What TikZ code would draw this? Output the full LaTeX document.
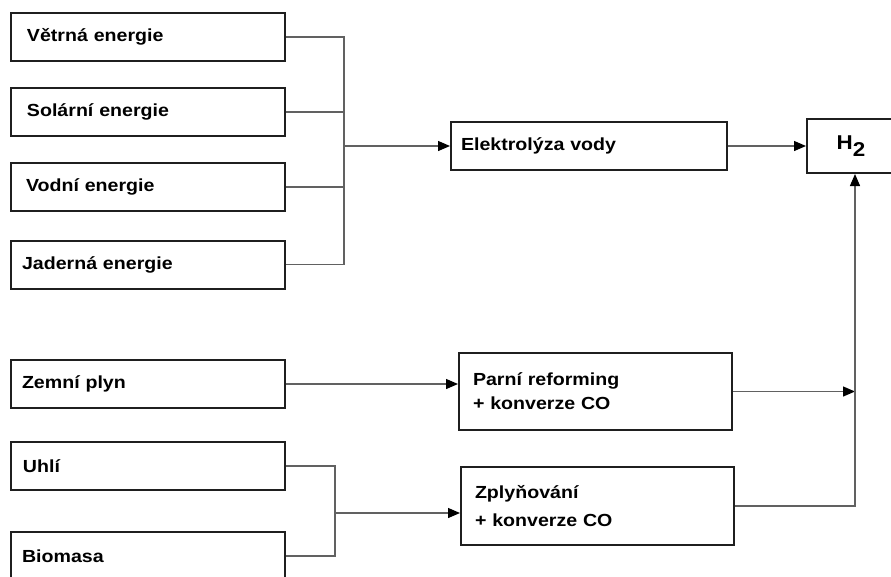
\documentclass[tikz,border=0pt]{standalone}
\usepackage{fontspec}
\setmainfont{Liberation Sans}[FakeStretch=1.12]
\usetikzlibrary{arrows.meta}
\begin{document}
\begin{tikzpicture}[x=1pt,y=-1pt,
  box/.style={draw=black!88, line width=2pt, fill=white, align=left, inner ysep=0pt,
    font=\fontsize{17.5}{24}\selectfont\bfseries},
  conn/.style={draw=black!62, line width=1.3pt},
  arr/.style={conn, -{Triangle[length=12pt,width=10pt,color=black]}}]
\useasboundingbox (0,0) rectangle (891,576);
\fill[white] (0,0) rectangle (891,576);
% left source boxes
\node[box, minimum height=48pt, inner xsep=16pt, text width=242pt] (vetrna) at (148,37) {Větrná energie};
\node[box, minimum height=48pt, inner xsep=16pt, text width=242pt] (solarni) at (148,112) {Solární energie};
\node[box, minimum height=48pt, inner xsep=15pt, text width=244pt] (vodni) at (148,187) {Vodní energie};
\node[box, minimum height=48pt, inner xsep=11pt, text width=252pt] (jaderna) at (148,264.5) {Jaderná energie};
\node[box, minimum height=48pt, inner xsep=11pt, text width=252pt] (zemni) at (148,384) {Zemní plyn};
\node[box, minimum height=48pt, inner xsep=12pt, text width=250pt] (uhli) at (148,466) {Uhlí};
\node[box, minimum height=48pt, inner xsep=11pt, text width=252pt] (biomasa) at (148,556) {Biomasa};
% processes
\node[box, minimum height=48pt, inner xsep=10pt, text width=256pt] (elektro) at (589,146) {Elektrolýza vody};
\node[box, minimum height=77pt, inner xsep=14pt, text width=245pt] (parni) at (595.5,391.5) {Parní reforming\\+ konverze CO};
\node[box, minimum height=78pt, inner xsep=14pt, text width=245pt] (zplyn) at (597.5,506) {Zplyňování\\[4pt]+ konverze CO};
% product
\node[box, minimum height=54pt, minimum width=98pt, inner xsep=0pt, align=center,
  font=\fontsize{20}{24}\selectfont\bfseries] (h2) at (856,146) {\hspace*{-10pt}H\raisebox{-7pt}{2}};
% junctions
\coordinate (j1) at (344,146);
\coordinate (j2) at (335,513);
\coordinate (j3) at (855,506);
% connectors
\draw[conn] (vetrna.east) -- (vetrna.east -| j1) -- (jaderna.east -| j1) -- (jaderna.east);
\draw[conn] (solarni.east) -- (solarni.east -| j1);
\draw[conn] (vodni.east) -- (vodni.east -| j1);
\draw[arr] (j1) -- (elektro.west);
\draw[arr] (elektro.east) -- (h2.west);
\draw[arr] (zemni.east) -- (zemni.east -| parni.west);
\draw[conn] (uhli.east) -- (uhli.east -| j2) -- (biomasa.east -| j2) -- (biomasa.east);
\draw[arr] (j2) -- (j2 -| zplyn.west);
\draw[arr] (parni.east) -- (parni.east -| j3);
\draw[arr] (zplyn.east) -- (j3) -- (j3 |- h2.south);
\end{tikzpicture}
\end{document}
